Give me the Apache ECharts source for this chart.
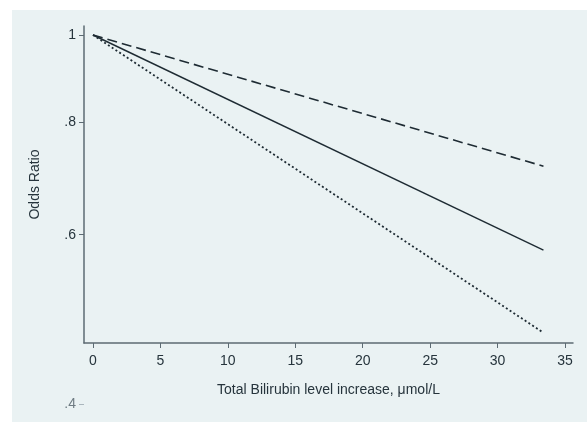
<!DOCTYPE html>
<html>
<head>
<meta charset="utf-8">
<script src="https://cdn.jsdelivr.net/npm/echarts@6/dist/echarts.min.js"></script>
<style>
html,body{margin:0;padding:0;background:#ffffff;}
#chart{position:absolute;left:12px;top:10px;width:575px;height:412px;background:#eaf2f3;}
</style>
</head>
<body>
<div id="chart"></div>
<script>
// Data (odds ratio vs bilirubin increase; log-scaled y)
const xStart = 0;
const xEnd = 33.4;
const dashedOR = [1, 0.715];
const solidOR = [1, 0.577];
const dottedOR = [1, 0.467];
const xTicks = [0, 5, 10, 15, 20, 25, 30, 35];
const yTicks = [0.6, 0.8, 1];
const yExtraTick = [0.4];
const yTickText = {1: '1', 0.8: '.8', 0.6: '.6', 0.4: '.4'};

const axisColor = '#5d6b73';
const textColor = '#26343c';
const lineColor = '#1e2b33';
const font = 'Liberation Sans, Arial, Helvetica, sans-serif';

function pts(arr) { return [[xStart, arr[0]], [xEnd, arr[1]]]; }

const chart = echarts.init(document.getElementById('chart'), null, {renderer: 'canvas'});
chart.setOption({
  animation: false,
  backgroundColor: '#eaf2f3',
  textStyle: {fontFamily: font},
  grid: [
    {left: 72, top: 16, right: 14, bottom: 79},
    {left: 72, top: 25, right: 14, bottom: 18}
  ],
  xAxis: [
    {
      type: 'value', gridIndex: 0, min: -0.667, max: 35.59,
      axisLine: {show: true, onZero: false, lineStyle: {color: axisColor, width: 1.5}},
      axisTick: {show: true, length: 5, customValues: xTicks, lineStyle: {color: axisColor}},
      axisLabel: {customValues: xTicks, color: textColor, fontSize: 14, margin: 11, fontFamily: font},
      splitLine: {show: false},
      name: 'Total Bilirubin level increase, μmol/L',
      nameLocation: 'middle', nameGap: 40,
      nameTextStyle: {color: textColor, fontSize: 14, fontFamily: font}
    },
    {type: 'value', gridIndex: 1, min: -0.667, max: 35.59, show: false}
  ],
  yAxis: [
    {
      type: 'log', gridIndex: 0, min: 0.4549, max: 1.0233,
      axisLine: {show: true, onZero: false, lineStyle: {color: axisColor, width: 1.5}},
      axisTick: {show: true, length: 5, customValues: yTicks, lineStyle: {color: axisColor}},
      axisLabel: {customValues: yTicks, color: textColor, fontSize: 14, margin: 8, fontFamily: font,
        formatter: v => yTickText[Math.round(v * 10) / 10] || String(v)},
      splitLine: {show: false},
      minorTick: {show: false},
      name: 'Odds Ratio', nameLocation: 'middle', nameGap: 42,
      nameTextStyle: {color: textColor, fontSize: 14, fontFamily: font}
    },
    {
      type: 'log', gridIndex: 1, min: 0.4, max: 1,
      axisLine: {show: false, onZero: false},
      axisTick: {show: true, length: 5, customValues: yExtraTick, lineStyle: {color: '#aab6bd'}},
      axisLabel: {customValues: yExtraTick, color: '#6f7c83', fontSize: 14, margin: 8, fontFamily: font,
        formatter: v => yTickText[Math.round(v * 10) / 10] || String(v)},
      splitLine: {show: false}
    }
  ],
  series: [
    {type: 'line', name: 'upper', xAxisIndex: 0, yAxisIndex: 0, data: pts(dashedOR), symbol: 'none',
      lineStyle: {color: lineColor, width: 1.6, type: [10, 5]}},
    {type: 'line', name: 'estimate', xAxisIndex: 0, yAxisIndex: 0, data: pts(solidOR), symbol: 'none',
      lineStyle: {color: lineColor, width: 1.4, type: 'solid'}},
    {type: 'line', name: 'lower', xAxisIndex: 0, yAxisIndex: 0, data: pts(dottedOR), symbol: 'none',
      lineStyle: {color: lineColor, width: 1.8, type: [2, 2.5]}}
  ]
});
</script>
</body>
</html>
